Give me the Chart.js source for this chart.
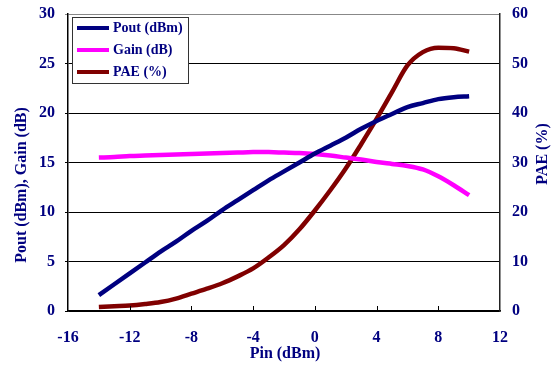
<!DOCTYPE html>
<html>
<head>
<meta charset="utf-8">
<script src="https://cdn.jsdelivr.net/npm/chart.js@4"></script>
<style>
  html, body { margin: 0; padding: 0; background: #fff; }
  #wrap { width: 553px; height: 366px; }
</style>
</head>
<body>
<div id="wrap"><canvas id="paChart" width="553" height="366"></canvas></div>
<script>
// 输入功率 (dBm)
const pinValues = [-14, -13, -12, -11, -10, -9, -8, -7, -6, -5, -4, -3, -2, -1, 0, 1, 2, 3, 4, 5, 6, 7, 8, 9, 10];
// 输出功率 (dBm)
const poutValues = [1.6, 2.7, 3.8, 4.9, 6.0, 7.0, 8.1, 9.1, 10.2, 11.2, 12.2, 13.2, 14.1, 15.0, 15.9, 16.7, 17.5, 18.4, 19.2, 19.9, 20.6, 21.0, 21.4, 21.6, 21.7];
// 增益 (dB)
const gainValues = [15.5, 15.55, 15.65, 15.7, 15.75, 15.8, 15.85, 15.9, 15.95, 16.0, 16.05, 16.05, 16.0, 15.95, 15.85, 15.7, 15.5, 15.3, 15.05, 14.85, 14.65, 14.3, 13.6, 12.7, 11.7];
// 功率附加效率 (%)
const paeValues = [0.8, 0.95, 1.1, 1.4, 1.8, 2.5, 3.5, 4.5, 5.6, 7.0, 8.6, 10.8, 13.3, 16.5, 20.3, 24.4, 28.8, 33.7, 38.8, 44.2, 49.6, 52.3, 53.2, 53.1, 52.4];

const xTicks = [-16, -12, -8, -4, 0, 4, 8, 12];
const leftTicks = [0, 5, 10, 15, 20, 25, 30];
const rightTicks = [0, 10, 20, 30, 40, 50, 60];

const seriesNames = ['Pout (dBm)', 'Gain (dB)', 'PAE (%)'];
const seriesColors = ['#000080', '#FF00FF', '#800000'];

const textColor = '#000080';
const fontFamily = "'Liberation Serif', 'Times New Roman', serif";

function toPoints(ys) {
    return pinValues.map((x, i) => ({ x: x, y: ys[i] }));
}

// 固定坐标轴尺寸，去掉标签溢出带来的额外边距
function fixSize(prop, size) {
    return s => {
        s[prop] = size;
        s.paddingTop = 0;
        s.paddingBottom = 0;
        s.paddingLeft = 0;
        s.paddingRight = 0;
    };
}

// 图例、坐标轴标题和内侧刻度
const decorPlugin = {
    id: 'decor',
    afterDraw(chart) {
        const ctx = chart.ctx;
        const area = chart.chartArea;
        const xs = chart.scales.x;
        ctx.save();

        // x 轴内侧刻度
        ctx.strokeStyle = '#000';
        ctx.lineWidth = 1;
        xTicks.forEach(v => {
            if (v <= -16 || v >= 12) return;
            const px = Math.round(xs.getPixelForValue(v)) + 0.5;
            ctx.beginPath();
            ctx.moveTo(px, area.bottom);
            ctx.lineTo(px, area.bottom - 5);
            ctx.stroke();
        });

        // 坐标轴标题
        ctx.fillStyle = textColor;
        ctx.font = 'bold 16px ' + fontFamily;
        ctx.textAlign = 'center';
        ctx.textBaseline = 'middle';
        ctx.fillText('Pin (dBm)', 285, 354);

        ctx.save();
        ctx.translate(22, 185);
        ctx.rotate(-Math.PI / 2);
        ctx.fillText('Pout (dBm), Gain (dB)', 0, 0);
        ctx.restore();

        ctx.save();
        ctx.translate(543, 154);
        ctx.rotate(-Math.PI / 2);
        ctx.fillText('PAE (%)', 0, 0);
        ctx.restore();

        // 图例
        const bx = 72.5, by = 17.5, bw = 116, bh = 66;
        ctx.fillStyle = '#fff';
        ctx.fillRect(bx, by, bw, bh);
        ctx.strokeStyle = '#333';
        ctx.lineWidth = 1;
        ctx.strokeRect(bx, by, bw, bh);
        ctx.font = 'bold 14px ' + fontFamily;
        ctx.textAlign = 'left';
        chart.data.datasets.forEach((ds, i) => {
            const cy = 28 + i * 22;
            ctx.strokeStyle = ds.borderColor;
            ctx.lineWidth = 4;
            ctx.beginPath();
            ctx.moveTo(77, cy);
            ctx.lineTo(109, cy);
            ctx.stroke();
            ctx.fillStyle = textColor;
            ctx.fillText(ds.label, 113, cy);
        });

        ctx.restore();
    }
};

const ctx = document.getElementById('paChart').getContext('2d');

new Chart(ctx, {
    type: 'line',
    data: {
        datasets: [
            { label: seriesNames[0], data: toPoints(poutValues), yAxisID: 'y', borderColor: seriesColors[0] },
            { label: seriesNames[1], data: toPoints(gainValues), yAxisID: 'y', borderColor: seriesColors[1] },
            { label: seriesNames[2], data: toPoints(paeValues), yAxisID: 'y1', borderColor: seriesColors[2] }
        ]
    },
    options: {
        responsive: false,
        animation: false,
        layout: { padding: { top: 14, left: 0, right: 0, bottom: 0 } },
        elements: {
            line: { borderWidth: 4.5, cubicInterpolationMode: 'monotone', fill: false, borderCapStyle: 'butt' },
            point: { radius: 0, hoverRadius: 0 }
        },
        plugins: {
            legend: { display: false },
            tooltip: { enabled: false }
        },
        scales: {
            x: {
                type: 'linear',
                min: -16,
                max: 12,
                afterBuildTicks: s => { s.ticks = xTicks.map(v => ({ value: v })); },
                afterFit: fixSize('height', 55),
                grid: { display: true, drawOnChartArea: false, drawTicks: false },
                border: { display: true, color: '#000', width: 1.5 },
                ticks: {
                    padding: 17,
                    color: textColor,
                    font: { family: fontFamily, size: 16, weight: 'bold' },
                    maxRotation: 0
                }
            },
            y: {
                position: 'left',
                min: 0,
                max: 30,
                afterBuildTicks: s => { s.ticks = leftTicks.map(v => ({ value: v })); },
                afterFit: fixSize('width', 68),
                grid: {
                    color: c => (c.tick && c.tick.value === 30) ? '#888' : '#000',
                    lineWidth: 1,
                    tickLength: 3
                },
                border: { display: true, color: '#000', width: 1.5 },
                ticks: {
                    padding: 10,
                    color: textColor,
                    font: { family: fontFamily, size: 16, weight: 'bold' }
                }
            },
            y1: {
                position: 'right',
                min: 0,
                max: 60,
                afterBuildTicks: s => { s.ticks = rightTicks.map(v => ({ value: v })); },
                afterFit: fixSize('width', 53),
                grid: { display: false, drawTicks: false },
                border: { display: true, color: '#222', width: 1.5 },
                ticks: {
                    padding: 12,
                    color: textColor,
                    font: { family: fontFamily, size: 16, weight: 'bold' }
                }
            }
        }
    },
    plugins: [decorPlugin]
});
</script>
</body>
</html>
